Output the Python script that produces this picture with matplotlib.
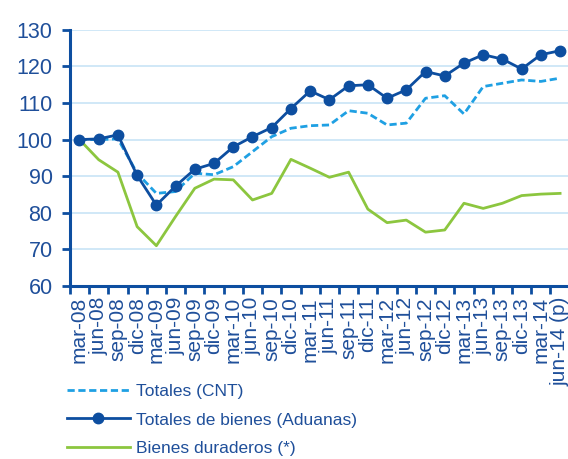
import numpy as np
import matplotlib
matplotlib.use("Agg")
from matplotlib import pyplot as plt
from matplotlib.ticker import FixedLocator, NullFormatter

plt.rcParams['font.family'] = ['Liberation Sans', 'DejaVu Sans']

# Periods (quarterly)
periods = ['mar-08', 'jun-08', 'sep-08', 'dic-08', 'mar-09', 'jun-09', 'sep-09', 'dic-09',
           'mar-10', 'jun-10', 'sep-10', 'dic-10', 'mar-11', 'jun-11', 'sep-11', 'dic-11',
           'mar-12', 'jun-12', 'sep-12', 'dic-12', 'mar-13', 'jun-13', 'sep-13', 'dic-13',
           'mar-14', 'jun-14 (p)']

totales_cnt = [100.0, 100.0, 100.2, 90.8, 85.3, 85.8, 90.8, 90.4, 92.6, 96.7, 100.8, 103.1,
               103.8, 104.0, 107.9, 107.2, 104.0, 104.5, 111.3, 112.0, 107.0, 114.5, 115.4,
               116.3, 115.9, 116.8]

totales_aduanas = [100.0, 100.2, 101.3, 90.2, 82.1, 87.3, 91.9, 93.5, 98.0, 100.8, 103.3, 108.5,
                   113.3, 110.9, 114.7, 115.0, 111.3, 113.6, 118.6, 117.4, 120.9, 123.2, 122.0,
                   119.3, 123.2, 124.3]

bienes_duraderos = [100.0, 94.5, 91.1, 76.2, 71.0, 79.0, 86.7, 89.2, 89.0, 83.5, 85.3, 94.6,
                    92.2, 89.7, 91.1, 81.0, 77.3, 78.0, 74.7, 75.3, 82.6, 81.2, 82.6, 84.7,
                    85.1, 85.3]

dark_blue = '#0d4ea0'
light_blue = '#1fa0e3'
green = '#8cc63f'
text_blue = '#1f4f9a'

x = np.arange(len(periods))

fig = plt.figure(figsize=(5.68, 4.59), dpi=100)
ax = fig.add_axes([0.123, 0.377, 0.880, 0.558])

ax.plot(x, totales_cnt, color=light_blue, linestyle=(0, (2.6, 1.3)), linewidth=2.0,
        label='Totales (CNT)', zorder=3)
ax.plot(x, totales_aduanas, color=dark_blue, linewidth=2.0, marker='o', markersize=7.5,
        label='Totales de bienes (Aduanas)', zorder=4)
ax.plot(x, bienes_duraderos, color=green, linewidth=2.0,
        label='Bienes duraderos (*)', zorder=3)

ax.set_xlim(-0.5, len(periods) - 0.5)
ax.set_ylim(60, 130)
ax.set_yticks(np.arange(60, 131, 10))

# category ticks at boundaries, labels at centres
ax.xaxis.set_major_locator(FixedLocator(np.arange(-0.5, len(periods), 1.0)))
ax.xaxis.set_major_formatter(NullFormatter())
ax.xaxis.set_minor_locator(FixedLocator(x))
ax.set_xticklabels(periods, minor=True, rotation=90, fontsize=15, color=text_blue)
ax.tick_params(axis='x', which='minor', length=0, pad=8)
ax.tick_params(axis='x', which='major', length=6, width=2, color=dark_blue, direction='out')
ax.tick_params(axis='y', length=6, width=2, color=dark_blue, labelsize=15.5,
               labelcolor=text_blue, pad=6.5)

ax.grid(axis='y', color='#c8e4f6', linewidth=1.2)
ax.set_axisbelow(True)
for side in ['top', 'right']:
    ax.spines[side].set_visible(False)
for side in ['left', 'bottom']:
    ax.spines[side].set_color(dark_blue)
    ax.spines[side].set_linewidth(2.2)

leg = ax.legend(loc='upper left', bbox_to_anchor=(0.118, 0.164), bbox_transform=fig.transFigure,
                frameon=False, fontsize=12.5, handlelength=3.6, handletextpad=0.4,
                labelspacing=0.78, borderpad=0, borderaxespad=0)
for t in leg.get_texts():
    t.set_color(text_blue)

fig.savefig('out.png', dpi=100)
